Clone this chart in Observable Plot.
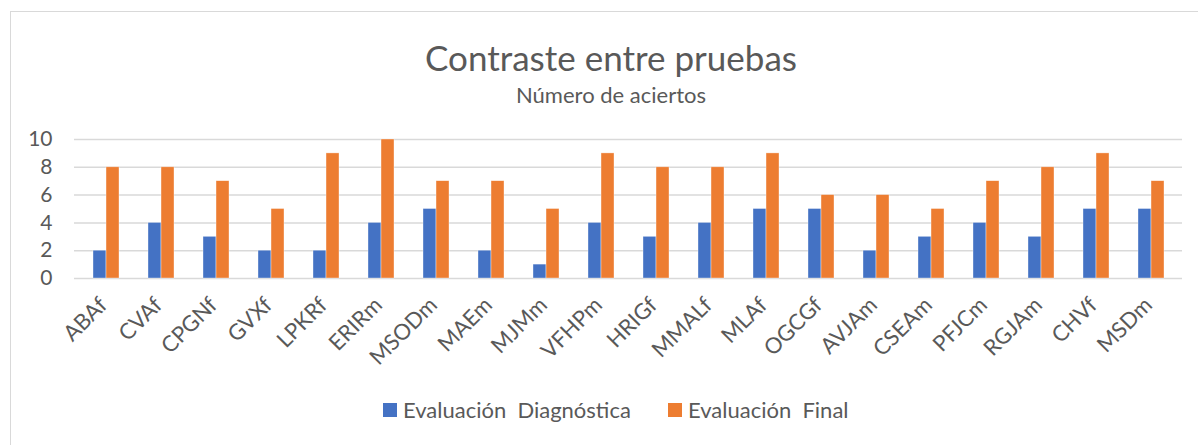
<!DOCTYPE html>
<html>
<head>
<meta charset="utf-8">
<script src="https://cdn.jsdelivr.net/npm/d3@7"></script>
<script src="https://cdn.jsdelivr.net/npm/@observablehq/plot@0.6"></script>
<style>
  html, body { margin: 0; padding: 0; background: #fff; overflow: hidden; }
  #wrap { position: relative; width: 1198px; height: 445px; font-family: Lato, "Open Sans", sans-serif; color: #595959; overflow: hidden; }
  #frame { position: absolute; left: 10px; top: 11px; width: 1210px; height: 460px; border: 1.5px solid #d9d9d9; box-sizing: border-box; }
  .ctr { position: absolute; left: 311px; width: 600px; text-align: center; white-space: nowrap; line-height: 1; }
  #title { top: 40px; font-size: 35px; }
  #subtitle { top: 84px; font-size: 22px; }
  #chart { position: absolute; left: 0; top: 110px; }
  #legend { position: absolute; top: 397px; left: 0; width: 1198px; height: 26px; font-size: 22px; line-height: 26px; }
  .sw { position: absolute; width: 14px; height: 14px; top: 6px; }
  .lt { position: absolute; top: 0; white-space: pre; }
</style>
</head>
<body>
<div id="wrap">
  <div id="frame"></div>
  <div id="title" class="ctr">Contraste entre pruebas</div>
  <div id="subtitle" class="ctr">Número de aciertos</div>
  <div id="chart"></div>
  <div id="legend"></div>
</div>
<script>
const categories = ["ABAf","CVAf","CPGNf","GVXf","LPKRf","ERIRm","MSODm","MAEm","MJMm","VFHPm","HRIGf","MMALf","MLAf","OGCGf","AVJAm","CSEAm","PFJCm","RGJAm","CHVf","MSDm"];
const seriesNames = ["Evaluación  Diagnóstica", "Evaluación  Final"];
const diagnostica = [2,4,3,2,2,4,5,2,1,4,3,4,5,5,2,3,4,3,5,5];
const final = [8,8,7,5,9,10,7,7,5,9,8,8,9,6,6,5,7,8,9,7];
const yTicks = [0,2,4,6,8,10];
const colors = ["#4472c4", "#ed7d31"];

const diagData = categories.map((c, i) => ({cat: c, serie: seriesNames[0], v: diagnostica[i]}));
const finalData = categories.map((c, i) => ({cat: c, serie: seriesNames[1], v: final[i]}));

const W = 1198, ML = 74, MR = 16;
const pInner = 0.53, pOuter = 0.265;
// half of the band width, for placing the two bars side by side in one band
const xScale = d3.scaleBand().domain(categories).range([ML, W - MR]).paddingInner(pInner).paddingOuter(pOuter);
const half = xScale.bandwidth() / 2;

const plot = Plot.plot({
  width: W,
  height: 260,
  marginTop: 29,
  marginBottom: 92,
  marginLeft: ML,
  marginRight: MR,
  style: {color: "#595959", fontFamily: "Lato, 'Open Sans', sans-serif", background: "transparent"},
  x: {domain: categories, paddingInner: pInner, paddingOuter: pOuter, label: null},
  y: {domain: [0, 10], label: null},
  color: {domain: seriesNames, range: colors},
  marks: [
    Plot.ruleY(yTicks, {stroke: "#d9d9d9", strokeWidth: 1.5}),
    Plot.barY(diagData, {x: "cat", y: "v", fill: "serie", insetRight: half, stroke: "#fff", strokeWidth: 0.6, strokeOpacity: 0.6}),
    Plot.barY(finalData, {x: "cat", y: "v", fill: "serie", insetLeft: half, stroke: "#fff", strokeWidth: 0.6, strokeOpacity: 0.6}),
    Plot.axisY({ticks: yTicks, tickSize: 0, tickPadding: 22, fontSize: 21, label: null}),
    Plot.axisX({anchor: "bottom", tickRotate: -45, tickSize: 0, tickPadding: 23, dx: -3, fontSize: 22, label: null})
  ]
});
document.getElementById("chart").appendChild(plot);

const legend = document.getElementById("legend");
const items = [{x: 383, tx: 403}, {x: 668, tx: 688}];
seriesNames.forEach((s, i) => {
  const sw = document.createElement("div");
  sw.className = "sw"; sw.style.left = items[i].x + "px"; sw.style.background = colors[i];
  legend.appendChild(sw);
  const t = document.createElement("div");
  t.className = "lt"; t.style.left = items[i].tx + "px"; t.textContent = s;
  legend.appendChild(t);
});
</script>
</body>
</html>
